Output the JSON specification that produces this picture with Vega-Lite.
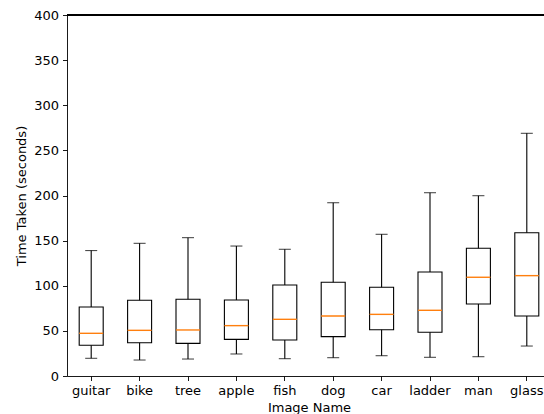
{
  "$schema": "https://vega.github.io/schema/vega-lite/v6.json",
  "width": 477,
  "height": 361,
  "autosize": "none",
  "padding": {"left": 67, "top": 15, "right": 0, "bottom": 38},
  "background": "white",
  "config": {
    "view": {"stroke": null},
    "axis": {
      "labelFont": "DejaVu Sans",
      "titleFont": "DejaVu Sans",
      "labelFontSize": 13,
      "titleFontSize": 13,
      "titleFontWeight": "normal",
      "labelColor": "black",
      "titleColor": "black",
      "tickColor": "black",
      "domainColor": "black",
      "domainWidth": 0.9,
      "tickWidth": 0.9,
      "tickSize": 4.5,
      "labelPadding": 4,
      "grid": false
    }
  },
  "data": {
    "values": [
      {"name": "guitar", "lo": 19.6, "q1": 34, "med": 47.3, "q3": 76.5, "hi": 139},
      {"name": "bike", "lo": 17.7, "q1": 36.9, "med": 50.6, "q3": 83.9, "hi": 147},
      {"name": "tree", "lo": 18.8, "q1": 36.2, "med": 51, "q3": 85, "hi": 153.3},
      {"name": "apple", "lo": 24.4, "q1": 40.6, "med": 55.8, "q3": 84.2, "hi": 144},
      {"name": "fish", "lo": 19.2, "q1": 39.9, "med": 62.8, "q3": 100.8, "hi": 140.4},
      {"name": "dog", "lo": 20.3, "q1": 43.6, "med": 66.5, "q3": 103.8, "hi": 192},
      {"name": "car", "lo": 22.5, "q1": 51.3, "med": 68.3, "q3": 98.3, "hi": 157},
      {"name": "ladder", "lo": 20.7, "q1": 48.4, "med": 72.8, "q3": 115.2, "hi": 203.1},
      {"name": "man", "lo": 21.4, "q1": 79.8, "med": 109.4, "q3": 141.5, "hi": 199.8},
      {"name": "glass", "lo": 33.2, "q1": 66.5, "med": 111.2, "q3": 158.8, "hi": 268.9}
    ]
  },
  "layer": [
    {
      "mark": {"type": "rule", "color": "black", "strokeWidth": 1.1},
      "encoding": {
        "x": {
          "field": "name",
          "type": "nominal",
          "sort": null,
          "scale": {"type": "band", "range": [0, 484], "paddingInner": 0, "paddingOuter": 0},
          "axis": {"title": "Image Name", "labelAngle": 0, "titlePadding": 4}
        },
        "y": {"field": "lo", "type": "quantitative", "scale": {"domain": [0, 400], "nice": false},
              "axis": {"title": "Time Taken (seconds)", "values": [0, 50, 100, 150, 200, 250, 300, 350, 400], "titlePadding": 5}},
        "y2": {"field": "hi"}
      }
    },
    {
      "mark": {"type": "bar", "fill": "white", "stroke": "black", "strokeWidth": 1.1, "width": 24},
      "encoding": {
        "x": {"field": "name", "type": "nominal", "sort": null},
        "y": {"field": "q1", "type": "quantitative"},
        "y2": {"field": "q3"}
      }
    },
    {
      "mark": {"type": "tick", "color": "black", "size": 12, "thickness": 1.1},
      "encoding": {
        "x": {"field": "name", "type": "nominal", "sort": null},
        "y": {"field": "lo", "type": "quantitative"}
      }
    },
    {
      "mark": {"type": "tick", "color": "black", "size": 12, "thickness": 1.1},
      "encoding": {
        "x": {"field": "name", "type": "nominal", "sort": null},
        "y": {"field": "hi", "type": "quantitative"}
      }
    },
    {
      "mark": {"type": "tick", "color": "#ff7f0e", "size": 24, "thickness": 1.4, "opacity": 1},
      "encoding": {
        "x": {"field": "name", "type": "nominal", "sort": null},
        "y": {"field": "med", "type": "quantitative"}
      }
    },
    {
      "mark": {"type": "rule", "color": "black", "strokeWidth": 0.8},
      "encoding": {"y": {"datum": 400, "type": "quantitative"}}
    }
  ]
}
